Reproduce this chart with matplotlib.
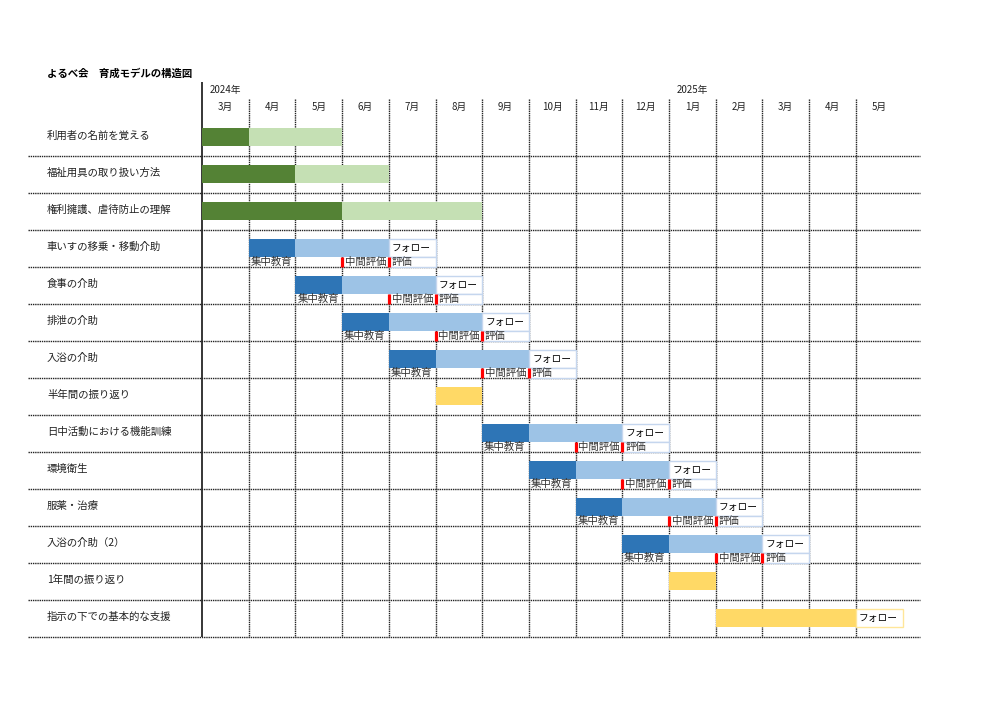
import matplotlib.pyplot as plt
from matplotlib.patches import Rectangle

plt.rcParams['font.family'] = ['Noto Sans CJK JP', 'DejaVu Sans']

title = 'よるべ会　育成モデルの構造図'
months = ['3月', '4月', '5月', '6月', '7月', '8月', '9月', '10月', '11月',
          '12月', '1月', '2月', '3月', '4月', '5月']
years = ['2024年', '2025年']
year_cols = [0, 10]

tasks = ['利用者の名前を覚える', '福祉用具の取り扱い方法', '権利擁護、虐待防止の理解',
         '車いすの移乗・移動介助', '食事の介助', '排泄の介助', '入浴の介助',
         '半年間の振り返り', '日中活動における機能訓練', '環境衛生', '服薬・治療',
         '入浴の介助（2）', '1年間の振り返り', '指示の下での基本的な支援']

# green rows: (start month, length)
green_rows = [0, 1, 2]
green_dark = [(0, 1), (0, 2), (0, 3)]
green_light = [(1, 2), (2, 2), (3, 3)]

# blue rows: 集中教育 1 month, then 2 months, then follow-up
blue_rows = [3, 4, 5, 6, 8, 9, 10, 11]
blue_start = [1, 2, 3, 4, 6, 7, 8, 9]

# yellow rows
yellow_rows = [7, 12, 13]
yellow_start = [5, 10, 11]
yellow_len = [1, 1, 3]
yellow_follow = {13: 14}

DG, LG = '#548235', '#C5E0B4'
DB, LB = '#2E75B6', '#9DC3E6'
YE = '#FFD966'

fig = plt.figure(figsize=(10, 7.07), dpi=100)
ax = fig.add_axes([0, 0, 1, 1])
cw, rh = 46.7, 37.0
ax.set_xlim(-202 / cw, (1000 - 202) / cw)
ax.set_ylim((707 - 119) / rh, -119 / rh)
ax.axis('off')

n = len(tasks)
ncol = len(months)
bt, bh = 0.24, 0.49   # bar top offset, height
lab_y = 0.865
fs = 7.5

# grid
ax.vlines(0, -1.0, n, color='black', lw=1.1)
ax.vlines(range(1, ncol), -0.54, n, color='#222222', lw=1.0, linestyles=(0, (1, 0.6)))
ax.hlines(range(1, n + 1), -3.73, 15.37, color='#222222', lw=1.0, linestyles=(0, (1, 0.6)))

# header
ax.text(-3.32, -1.24, title, fontsize=7.5, fontweight='bold', va='center', ha='left')
for y, c in zip(years, year_cols):
    ax.text(c + 0.5, -0.78, y, fontsize=7, va='center', ha='center', color='#222222')
for j, m in enumerate(months):
    ax.text(j + 0.5, -0.32, m, fontsize=7, va='center', ha='center', color='#222222')

for i, t in enumerate(tasks):
    ax.text(-3.32, i + 0.45, t, fontsize=fs, va='center', ha='left', color='#222222')

def bar(row, start, length, color):
    ax.add_patch(Rectangle((start, row + bt), length, bh, facecolor=color, edgecolor='none', zorder=2))

for r, d, l in zip(green_rows, green_dark, green_light):
    bar(r, d[0], d[1], DG)
    bar(r, l[0], l[1], LG)

for r, s in zip(blue_rows, blue_start):
    bar(r, s, 1, DB)
    bar(r, s + 1, 2, LB)
    ax.add_patch(Rectangle((s + 3, r + bt), 1, bh, facecolor='white', edgecolor='#C5D6EE', lw=1, zorder=2))
    ax.add_patch(Rectangle((s + 3, r + bt + bh), 1, 1 - bt - bh, facecolor='white', edgecolor='#C5D6EE', lw=1, zorder=2))
    ax.text(s + 3.07, r + bt + bh / 2, 'フォロー', fontsize=7, va='center', ha='left', zorder=3)
    ax.text(s + 0.04, r + lab_y, '集中教育', fontsize=fs, va='center', ha='left', color='#333333', zorder=3)
    ax.text(s + 2.06, r + lab_y, '中間評価', fontsize=fs, va='center', ha='left', color='#333333', zorder=3)
    ax.text(s + 3.06, r + lab_y, '評価', fontsize=fs, va='center', ha='left', color='#333333', zorder=3)
    ax.vlines([s + 2, s + 3], r + bt + bh, r + 1, color='#FF0000', lw=2.3, zorder=4)

for r, s, l in zip(yellow_rows, yellow_start, yellow_len):
    bar(r, s, l, YE)
    if r in yellow_follow:
        f = yellow_follow[r]
        ax.add_patch(Rectangle((f, r + bt), 1, bh, facecolor='white', edgecolor='#FFE699', lw=1, zorder=2))
        ax.text(f + 0.07, r + bt + bh / 2, 'フォロー', fontsize=7, va='center', ha='left', zorder=3)

fig.savefig('out.png', dpi=100)
